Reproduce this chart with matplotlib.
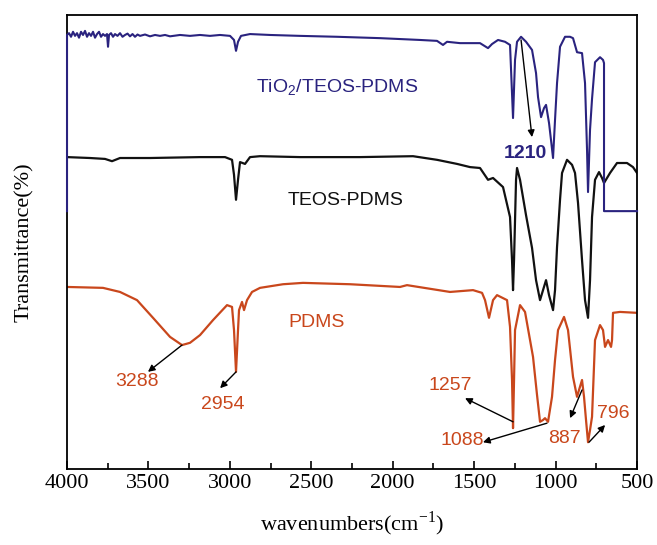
import numpy as np
import matplotlib.pyplot as plt
from matplotlib.ticker import MultipleLocator

plt.rcParams['mathtext.fontset'] = 'custom'
plt.rcParams['mathtext.rm'] = 'Liberation Serif'
plt.rcParams['mathtext.sf'] = 'Liberation Sans'

# FTIR spectra (wavenumber in cm-1, offset transmittance)
tio2_w = [4000, 4000, 3987.7, 3975.4, 3963.1, 3950.8, 3938.6, 3926.3, 3914.0, 3901.7, 3889.4,
          3877.1, 3864.9, 3852.6, 3840.3, 3828.0, 3815.7, 3803.4, 3791.2, 3778.9, 3766.7,
          3754.4, 3748.2, 3742.1, 3729.8, 3717.5, 3705.3, 3689.9, 3674.6, 3659.2, 3643.9,
          3628.5, 3613.2, 3597.8, 3582.5, 3567.1, 3551.7, 3521.0, 3490.3, 3459.6, 3428.9,
          3398.2, 3367.5, 3306.1, 3244.7, 3183.3, 3121.9, 3060.5, 2999.1, 2974.6, 2962.3,
          2950.0, 2931.6, 2876.3, 2753.5, 2569.3, 2342.1, 2078.1, 1832.5, 1728.1, 1691.3,
          1666.7, 1586.9, 1464.1, 1414.9, 1390.4, 1353.5, 1310.5, 1279.8, 1261.4, 1249.1,
          1236.8, 1212.2, 1181.5, 1144.7, 1120.1, 1107.8, 1089.4, 1071.0, 1058.7, 1040.3,
          1028.0, 1015.7, 1003.5, 991.2, 972.8, 942.1, 911.4, 893.0, 868.4, 837.7,
          819.3, 807.0, 800.9, 788.6, 776.3, 757.9, 727.2, 708.8, 702.7, 702.7, 500]
tio2_t = [56.8, 95.6, 96.0, 95.2, 96.3, 95.4, 96.0, 95.0, 96.3, 95.6, 96.5,
          95.2, 96.0, 95.4, 96.3, 95.0, 95.8, 96.3, 95.2, 95.8, 95.4,
          95.8, 93.0, 95.6, 96.0, 95.2, 95.8, 95.4, 96.0, 95.2, 95.6,
          95.9, 95.3, 95.8, 95.2, 95.7, 95.4, 95.7, 95.3, 95.6, 95.4,
          95.6, 95.3, 95.6, 95.4, 95.6, 95.4, 95.6, 95.4, 94.5, 92.1,
          94.1, 95.4, 95.8, 95.6, 95.4, 95.2, 94.9, 94.5, 94.3, 93.4,
          94.1, 93.8, 93.8, 92.7, 93.6, 94.5, 94.1, 93.4, 77.3, 90.1,
          94.1, 95.2, 94.1, 92.3, 87.2, 81.9, 77.5, 79.5, 80.2, 76.2,
          72.4, 68.5, 76.9, 85.0, 93.0, 95.2, 95.2, 94.9, 91.8, 91.6,
          85.0, 70.3, 61.0, 74.7, 81.5, 89.6, 90.7, 90.1, 89.4, 56.8, 56.8]

teos_w = [4000, 3858.8, 3766.7, 3723.7, 3674.6, 3490.3, 3183.3, 3029.8, 2986.8, 2974.6,
          2962.3, 2950.0, 2937.7, 2907.0, 2876.3, 2814.9, 2569.3, 2200.9, 1875.4, 1728.1,
          1605.2, 1525.4, 1464.1, 1414.9, 1384.1, 1322.8, 1279.8, 1267.5, 1261.4, 1255.2,
          1242.9, 1236.8, 1218.4, 1181.5, 1144.7, 1120.1, 1095.6, 1077.2, 1058.7, 1040.3,
          1015.7, 1003.5, 991.2, 972.8, 960.5, 929.8, 899.1, 880.7, 862.3, 837.7,
          819.3, 800.9, 788.6, 776.3, 757.9, 733.4, 715.0, 702.7, 684.3, 665.9,
          622.9, 561.5, 524.7, 500]
teos_t = [68.7, 68.5, 68.3, 67.8, 68.5, 68.5, 68.7, 68.7, 68.1, 64.8,
          59.3, 63.7, 67.6, 67.2, 68.7, 68.9, 68.7, 68.7, 68.9, 68.1,
          67.2, 66.5, 66.3, 63.7, 64.1, 62.1, 55.5, 46.0, 39.4, 46.0,
          63.7, 66.3, 63.7, 55.9, 48.7, 41.6, 37.2, 39.4, 41.6, 38.3,
          35.0, 39.4, 48.9, 59.3, 65.2, 68.1, 67.0, 65.2, 58.6, 46.0,
          37.2, 33.3, 41.6, 55.5, 63.7, 65.4, 64.1, 63.0, 64.1, 65.2,
          67.4, 67.4, 66.5, 65.2]

pdms_w = [4000, 3778.9, 3674.6, 3570.2, 3471.9, 3367.5, 3293.9, 3244.7, 3183.3, 3103.5,
          3017.5, 2986.8, 2974.6, 2962.3, 2950.0, 2943.8, 2925.4, 2913.1, 2894.7, 2864.0,
          2814.9, 2673.6, 2550.9, 2262.3, 1955.2, 1912.3, 1648.2, 1507.0, 1451.7, 1433.3,
          1408.8, 1384.1, 1359.6, 1298.2, 1279.8, 1267.5, 1261.4, 1255.2, 1249.1, 1218.4,
          1187.7, 1138.6, 1114.0, 1095.6, 1077.2, 1065.0, 1046.5, 1022.0, 1003.5, 985.1,
          948.3, 923.7, 893.0, 868.4, 856.2, 837.7, 825.5, 813.2, 800.9, 788.6,
          776.3, 757.9, 727.2, 708.8, 696.4, 678.0, 659.6, 653.5, 647.4, 604.4, 500]
pdms_t = [40.1, 39.9, 39.0, 37.2, 33.3, 29.1, 27.3, 27.8, 29.5, 32.8,
          36.1, 35.7, 30.6, 21.4, 30.6, 35.0, 36.8, 35.0, 37.2, 39.0,
          39.9, 40.7, 41.0, 40.7, 40.1, 40.5, 39.0, 39.4, 38.8, 37.2,
          33.3, 37.2, 38.3, 37.2, 31.3, 19.6, 9.0, 19.6, 30.6, 36.1,
          34.6, 24.7, 16.3, 10.4, 10.8, 11.2, 10.4, 15.9, 24.0, 30.6,
          33.5, 30.6, 20.3, 15.9, 17.4, 19.6, 15.9, 10.8, 5.9, 8.6,
          11.5, 28.4, 31.7, 30.6, 26.9, 28.4, 26.9, 28.4, 34.4, 34.6, 34.4]

# curve names and their label positions
names = ['TiO$_\\mathsf{2}$/TEOS-PDMS', 'TEOS-PDMS', 'PDMS']
name_pos = [(2342, 83.9), (2287, 59.2), (2465, 32.2)]
colors = ['#2a237f', '#111111', '#c9471c']

# peak labels: text, text position, arrow start (peak), arrow end (near text)
peak_text = ['1210', '3288', '2954', '1257', '1088', '887', '796']
peak_text_pos = [(1188, 69.6), (3570, 19.2), (3042, 14.3), (1648, 18.3), (1575, 6.2),
                 (948, 6.8), (647, 12.3)]
arrow_from = [(1212, 94.5), (3294, 27.3), (2962, 21.4), (1261, 10.4), (1053, 10.1),
              (838, 17.4), (795, 5.9)]
arrow_to = [(1145, 73.1), (3503, 21.4), (3060, 17.8), (1556, 15.6), (1446, 5.9),
            (911, 11.2), (696, 9.7)]
peak_color = [colors[0]] + [colors[2]] * 6

fig = plt.figure(figsize=(6.57, 5.45), dpi=100)
ax = fig.add_axes([0.102, 0.1394, 0.8676, 0.8331])

ax.plot(tio2_w, tio2_t, color=colors[0], lw=1.5, zorder=3, clip_on=False)
ax.plot(teos_w, teos_t, color=colors[1], lw=1.6)
ax.plot(pdms_w, pdms_t, color=colors[2], lw=1.6)

for name, (x, y), c in zip(names, name_pos, colors):
    ax.text(x, y, name, color=c, fontsize=14, family='Liberation Sans',
            ha='center', va='center')

for i, txt in enumerate(peak_text):
    ax.annotate('', xy=arrow_to[i], xytext=arrow_from[i],
                arrowprops=dict(arrowstyle='-|>', color='k', lw=1.0, mutation_scale=10,
                                shrinkA=0, shrinkB=0))
    ax.text(peak_text_pos[i][0], peak_text_pos[i][1], txt, color=peak_color[i], fontsize=14,
            family='Liberation Sans', fontweight='bold' if i == 0 else 'normal',
            ha='center', va='center')

ax.set_xlim(4000, 500)
ax.set_ylim(0, 100)
ax.xaxis.set_major_locator(MultipleLocator(500))
ax.xaxis.set_minor_locator(MultipleLocator(250))
ax.tick_params(axis='x', which='both', direction='in', top=False)
ax.tick_params(axis='x', which='major', length=6, width=1.2)
ax.tick_params(axis='x', which='minor', length=4, width=1.2)
ax.set_yticks([])
for lab in ax.get_xticklabels():
    lab.set_family('Liberation Serif')
    lab.set_fontsize(16)
for s in ax.spines.values():
    s.set_linewidth(1.3)

ax.set_xlabel('wavenumbers(cm$^{-1}$)', family='Liberation Serif', fontsize=16, labelpad=12)
ax.set_ylabel('Transmittance(%)', family='Liberation Serif', fontsize=16, labelpad=24)

fig.savefig('out.png', dpi=100)
